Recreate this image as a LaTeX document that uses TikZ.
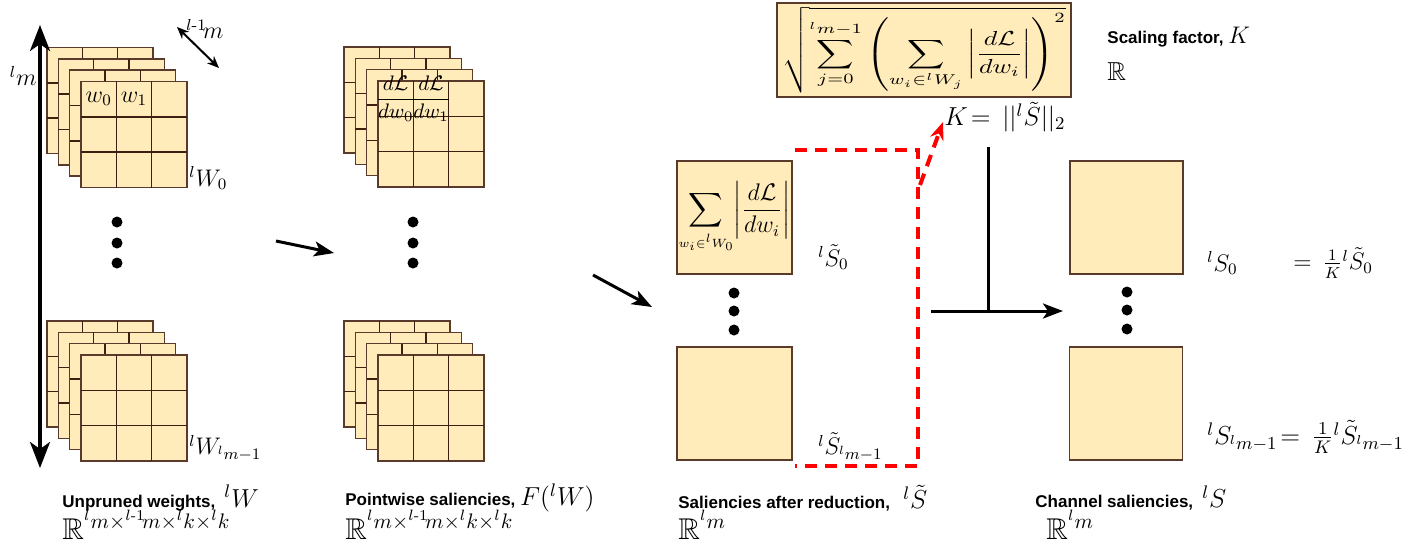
\RequirePackage{fix-cm}
\documentclass[tikz,border=0pt]{standalone}
\usepackage{amsmath,amssymb,graphicx}
\usepackage{fontspec}
\setsansfont{Liberation Sans}
\usetikzlibrary{arrows.meta}
\definecolor{cream}{HTML}{FFECBA}
\definecolor{brownline}{HTML}{3E1F12}
\definecolor{boxline}{HTML}{5A3A2A}
\newcommand\mfs{\fontsize{12}{14}\selectfont}
\newcommand\bfs{\fontsize{13}{15}\selectfont}
\newcommand\drawwstack[2]{%
  \foreach \i in {0,1,2,3}{%
    \pgfmathsetmacro\lx{#1+\i*11.33}%
    \pgfmathsetmacro\ly{#2+\i*11.33}%
    \path[layer] (\lx,\ly) rectangle ++(106,106);
    \draw[gline] (\lx+35.33,\ly) -- ++(0,106);
    \draw[gline] (\lx+70.67,\ly) -- ++(0,106);
    \draw[gline] (\lx,\ly+35.33) -- ++(106,0);
    \draw[gline] (\lx,\ly+70.67) -- ++(106,0);
  }}
\begin{document}
\begin{tikzpicture}[x=0.5pt,y=-0.5pt,
  layer/.style={fill=cream,draw=boxline,line width=0.7pt},
  gline/.style={draw=brownline,line width=0.75pt},
  mbox/.style={fill=cream,draw=boxline,line width=0.7pt,inner sep=0pt},
  bigarrow/.style={line width=1.5pt,-{Stealth[length=10pt,width=7.5pt,inset=2.5pt]}},
  mathlbl/.style={font=\mfs, inner sep=0pt},
  rlbl/.style={font=\fontsize{15}{17}\selectfont, inner sep=0pt},
  sanslbl/.style={font=\fontsize{8.5}{10}\selectfont\sffamily\bfseries, inner sep=0pt},
  reddash/.style={draw=red,line width=2pt,dash pattern=on 6pt off 4pt},
  dotc/.style={circle,fill=black,inner sep=0pt,minimum size=5.5pt}
]
\useasboundingbox (0,0) rectangle (1423,548);

% stacks
\drawwstack{47}{47.5}
\drawwstack{47}{321}
\drawwstack{344}{47}
\drawwstack{344}{321}

\node[mathlbl] (w0) at (98.7,98.7) {$w_0$};
\node[mathlbl] (w1) at (134,98.7) {$w_1$};
\node[font=\fontsize{10.5}{12}\selectfont, inner sep=0pt] (f0) at (395.7,98.7) {$\dfrac{d\mathcal{L}}{dw_0}$};
\node[font=\fontsize{10.5}{12}\selectfont, inner sep=0pt] (f1) at (431,98.7) {$\dfrac{d\mathcal{L}}{dw_1}$};

\node[mathlbl,anchor=west] (W0) at (189,178) {${}^lW_0$};
\node[mathlbl,anchor=west] (Wm) at (189,448) {${}^lW_{{}^lm-1}$};

% vertical arrow
\coordinate (vt) at (40,25);
\coordinate (vb) at (40,468);
\draw[line width=1.75pt,{Stealth[length=13pt,width=10pt,inset=3.5pt]}-{Stealth[length=13pt,width=10pt,inset=3.5pt]}] (vt) -- (vb);
\node[mathlbl,anchor=east] (lm) at (37,76) {${}^lm$};

% diagonal arrow
\coordinate (d1) at (177,27);
\coordinate (d2) at (219,68);
\draw[line width=1pt,{Stealth[length=6pt,width=5pt]}-{Stealth[length=6pt,width=5pt]}] (d1) -- (d2);
\node[mathlbl,anchor=west] (lm1) at (186,29) {${}^{l\text{-}1}\!m$};

% dots
\foreach \n/\x/\y in {a/117/222,b/117/243,c/117/263,d/413/222,e/413/243,f/413/263,g/734/293,h/734/311,i/734/330,j/1127/292,k/1127/310,l/1127/329}
  \node[dotc] (dot\n) at (\x,\y) {};

% arrows between columns
\coordinate (a1s) at (276,241);
\coordinate (a1e) at (334,253);
\draw[bigarrow] (a1s) -- (a1e);
\coordinate (a2s) at (593,275);
\coordinate (a2e) at (652,307);
\draw[bigarrow] (a2s) -- (a2e);

% middle boxes
\node[mbox,minimum width=57.5pt,minimum height=56.5pt] (b0) at (734.5,217.5)
  {\fontsize{12}{14}\selectfont$\displaystyle\sum_{\scriptscriptstyle w_i\in{}^lW_0}\!\left|\frac{d\mathcal{L}}{dw_i}\right|$};
\node[mbox,minimum width=57.5pt,minimum height=56.5pt] (b1) at (734.5,403.5) {};
\node[mathlbl,anchor=west] (st0) at (818,257) {${}^l\tilde{S}_0$};
\node[mathlbl,anchor=west] (stm) at (818,447) {${}^l\tilde{S}_{{}^lm-1}$};

% red dashed
\coordinate (r1) at (795,150);
\coordinate (r2) at (918,150);
\coordinate (r3) at (918,466);
\coordinate (r4) at (795,466);
\draw[reddash] (r1) -- (r2) -- (r3) -- (r4);
\coordinate (ra) at (920,185);
\coordinate (rb) at (943,122);
\draw[reddash,-{Stealth[length=9pt,width=7pt]}] (ra) -- (rb);

% formula box
\node[mbox,minimum width=147pt,minimum height=47pt] (fbox) at (924,50)
  {\resizebox*{142pt}{43pt}{$\displaystyle\sqrt{\sum_{j=0}^{{}^lm-1}\left(\sum_{w_i\in{}^lW_j}\left|\frac{d\mathcal{L}}{dw_i}\right|\right)^{2}}$}};
\node[font=\bfs,inner sep=0pt] (Klab) at (1005,117) {$K\!=\,||{}^l\tilde{S}||_2$};
\node[sanslbl,anchor=west] (sc) at (1107,37) {Scaling factor, {\mfs$K$}};
\node[mathlbl,anchor=west] (scR) at (1107,72) {\bfs$\mathbb{R}$};

% T connector
\coordinate (t1) at (988,147);
\coordinate (t2) at (988,311);
\coordinate (t3) at (931,311);
\coordinate (t4) at (1063,311);
\draw[line width=1.5pt] (t1) -- (t2);
\draw[bigarrow] (t3) -- (t4);

% right boxes
\node[mbox,minimum width=56.5pt,minimum height=56.5pt] (c0) at (1126.5,217.5) {};
\node[mbox,minimum width=56.5pt,minimum height=56.5pt] (c1) at (1126,403.5) {};
\node[mathlbl,anchor=west] (s0) at (1207,263) {${}^lS_0$};
\node[mathlbl,anchor=west] (s0eq) at (1293,263) {$=\,\frac{1}{K}{}^l\tilde{S}_0$};
\node[font=\fontsize{13}{15}\selectfont,inner sep=0pt,anchor=west] (sm) at (1207,437) {${}^lS_{{}^lm-1}\!=\,\frac{1}{K}{}^l\tilde{S}_{{}^lm-1}$};

% bottom labels
\node[sanslbl,anchor=west] (L1) at (62,498) {Unpruned weights, {\bfs$\,{}^lW$}};
\node[rlbl,anchor=west] (R1) at (62,525) {$\mathbb{R}^{{}^lm\times{}^{l\text{-}1}\!m\times{}^lk\times{}^lk}$};
\node[sanslbl,anchor=west] (L2) at (345,498) {Pointwise saliencies, {\bfs$F({}^lW)$}};
\node[rlbl,anchor=west] (R2) at (345,525) {$\mathbb{R}^{{}^lm\times{}^{l\text{-}1}\!m\times{}^lk\times{}^lk}$};
\node[sanslbl,anchor=west] (L3) at (678,498) {Saliencies after reduction, \enspace{\bfs${}^l\tilde{S}$}};
\node[rlbl,anchor=west] (R3) at (678,525) {$\mathbb{R}^{{}^lm}$};
\node[sanslbl,anchor=west] (L4) at (1035,498) {Channel saliencies, {\bfs$\,{}^lS$}};
\node[rlbl,anchor=west] (R4) at (1046,525) {$\mathbb{R}^{{}^lm}$};
\end{tikzpicture}
\end{document}
